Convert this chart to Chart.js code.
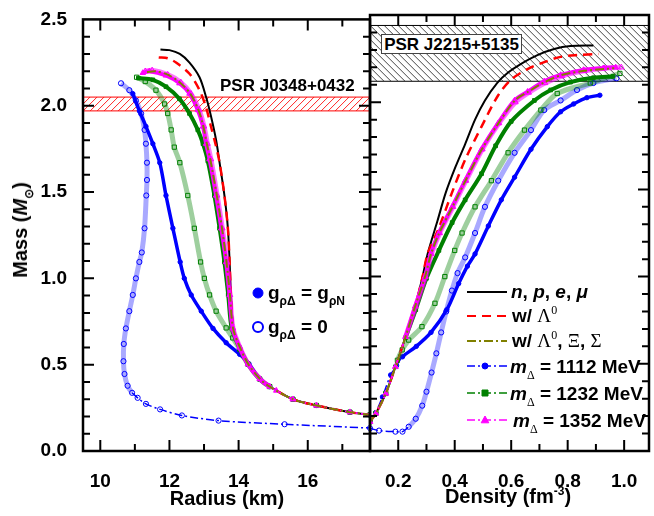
<!DOCTYPE html>
<html><head><meta charset="utf-8">
<script src="https://cdn.jsdelivr.net/npm/chart.js@4/dist/chart.umd.min.js"></script>
<style>
html,body{margin:0;padding:0;background:#fff;}
#wrap{position:relative;width:654px;height:516px;overflow:hidden;background:#fff;font-family:"Liberation Sans",Arial,sans-serif;color:#000;}
canvas{position:absolute;top:0;}
.t{position:absolute;white-space:nowrap;font-size:19px;font-weight:bold;line-height:19px;}
.ttl{font-size:20px;}
.sub{font-size:12px;position:relative;top:6px;}
.subs{font-size:12px;position:relative;top:6px;font-family:"Liberation Serif",serif;font-weight:normal;}
.subb{font-size:12px;position:relative;top:6px;}
.sup{font-size:12px;position:relative;top:-8px;}
.sym{font-family:"Liberation Serif",serif;font-weight:normal;font-size:19px;}
.supn{font-family:"Liberation Serif",serif;font-weight:normal;font-size:12px;position:relative;top:-8px;}
</style></head><body>
<div id="wrap">
<canvas id="cL" width="380" height="516" style="left:0px"></canvas>
<canvas id="cR" width="294" height="516" style="left:360px"></canvas>

<div class="t ttl" style="left:22px;top:230px;transform:translate(-50%,-50%) rotate(-90deg);">Mass (<i>M</i><span class="sub">&#8857;</span>)</div>
<div class="t ttl" style="left:227px;top:498px;transform:translate(-50%,-50%);">Radius (km)</div>
<div class="t ttl" style="left:508px;top:498px;transform:translate(-50%,-50%);">Density (fm<span class="sup">-3</span>)</div>

<div class="t" style="left:220px;top:76px;font-size:17px;">PSR J0348+0432</div>
<div class="t" style="left:381px;top:34px;width:139px;height:18px;font-size:17px;line-height:19px;background:#fff;border:1px solid #444;text-align:center;">PSR J2215+5135</div>

<div class="t" style="left:268px;top:283px;">g<span class="subb">&#961;&#916;</span> = g<span class="subb">&#961;N</span></div>
<div class="t" style="left:268px;top:317px;">g<span class="subb">&#961;&#916;</span> = 0</div>

<div class="t" style="left:511px;top:282px;"><i>n</i>, <i>p</i>, <i>e</i>, <i>&#956;</i></div>
<div class="t" style="left:512px;top:306px;">w/ <span class="sym">&#923;</span><span class="supn">0</span></div>
<div class="t" style="left:512px;top:331px;">w/ <span class="sym">&#923;</span><span class="supn">0</span>, <span class="sym">&#926;</span>, <span class="sym">&#931;</span></div>
<div class="t" style="left:510px;top:357px;"><i>m</i><span class="subs">&#916;</span> = 1112 MeV</div>
<div class="t" style="left:510px;top:384px;"><i>m</i><span class="subs">&#916;</span> = 1232 MeV</div>
<div class="t" style="left:513px;top:411px;"><i>m</i><span class="subs">&#916;</span> = 1352 MeV</div>
</div>

<script>
// ---------------- DATA ----------------
const xTicksRadius  = [10, 12, 14, 16];
const xMinorRadius  = [11, 13, 15, 17];
const xTicksDensity = [0.2, 0.4, 0.6, 0.8, 1.0];
const xMinorDensity = [0.3, 0.5, 0.7, 0.9];
const yTicksMass    = [0.0, 0.5, 1.0, 1.5, 2.0, 2.5];
const yMinorMass    = [0.1,0.2,0.3,0.4,0.6,0.7,0.8,0.9,1.1,1.2,1.3,1.4,1.6,1.7,1.8,1.9,2.1,2.2,2.3,2.4];
const radiusRange   = [9.5, 17.8];
const densityRange  = [0.1, 1.088];
const massRange     = [0, 2.5];
const psrJ0348      = [1.97, 2.05];
const psrJ2215      = [2.12, 2.44];

// ---- Mass-Radius (left panel) ----
const R_npemu  = [11.74,12.0,12.3,12.58,12.87,13.06,13.2,13.35,13.45,13.59,13.69,13.74,13.78,13.85,14.03,14.27,14.61,14.9,15.57,16.25,17.22,17.8];
const MR_npemu = [2.325,2.322,2.30,2.25,2.165,2.05,1.94,1.80,1.67,1.48,1.29,1.095,0.90,0.71,0.60,0.503,0.417,0.373,0.30,0.264,0.225,0.21];
const R_lam    = [11.69,11.95,12.19,12.58,12.87,13.06,13.2,13.33,13.45,13.59,13.69,13.74,13.78,13.85,14.03,14.27,14.61,14.9,15.57,16.25,17.22,17.8];
const MR_lam   = [2.28,2.275,2.25,2.185,2.09,1.99,1.88,1.78,1.67,1.48,1.29,1.095,0.90,0.71,0.60,0.503,0.417,0.373,0.30,0.264,0.225,0.21];
const R_lamXS  = [11.35,11.6,11.95,12.3,12.6,12.84,12.98,13.08,13.18,13.37,13.52,13.65,13.75,13.84,14.04,14.28,14.62,14.9,15.57,16.25,17.22,17.8];
const MR_lamXS = [2.195,2.2,2.18,2.135,2.07,1.975,1.88,1.78,1.69,1.48,1.29,1.095,0.904,0.71,0.60,0.503,0.417,0.373,0.30,0.264,0.225,0.21];
const R_1352g  = [11.23,11.42,11.9,12.29,12.58,12.82,12.97,13.06,13.16,13.35,13.5,13.64,13.74,13.83,14.03,14.27,14.61,14.9,15.09,15.57,16.25,17.22,17.8];
const MR_1352g = [2.19,2.20,2.175,2.13,2.07,1.975,1.88,1.78,1.69,1.48,1.29,1.095,0.904,0.71,0.60,0.503,0.417,0.373,0.35,0.30,0.264,0.225,0.21];
const R_1352z  = [11.3,11.5,11.95,12.33,12.62,12.86,13.0,13.1,13.2,13.38,13.53,13.66,13.75,13.84,14.04,14.28,14.62,14.9,15.57,16.25,17.22,17.8];
const MR_1352z = [2.20,2.205,2.18,2.135,2.07,1.975,1.88,1.78,1.69,1.48,1.29,1.095,0.904,0.71,0.60,0.503,0.417,0.373,0.30,0.264,0.225,0.21];
const R_1232g  = [11.1,11.52,11.9,12.29,12.58,12.82,12.97,13.11,13.3,13.45,13.59,13.7,13.8,14.02,14.27,14.61,14.9,15.57,16.25,17.22,17.8];
const MR_1232g = [2.16,2.15,2.11,2.04,1.955,1.86,1.78,1.68,1.48,1.29,1.095,0.904,0.71,0.60,0.503,0.417,0.373,0.30,0.264,0.225,0.21];
const R_1232z  = [11.05,11.3,11.61,11.86,11.95,12.05,12.14,12.3,12.53,12.72,12.9,13.01,13.16,13.35,13.64,13.83,14.03,14.27,14.61,14.9,15.57,16.25,17.22,17.8];
const MR_1232z = [2.165,2.14,2.09,2.01,1.955,1.86,1.76,1.67,1.48,1.29,1.095,1.0,0.904,0.81,0.713,0.655,0.59,0.503,0.417,0.373,0.30,0.264,0.225,0.21];
const R_1112g  = [10.94,11.13,11.32,11.52,11.72,11.9,12.1,12.31,12.43,12.63,12.92,13.26,13.64,14.03,14.3,14.61,14.9,15.57,16.25,17.22,17.8];
const MR_1112g = [2.07,1.97,1.88,1.78,1.67,1.48,1.29,1.095,1.0,0.904,0.81,0.71,0.627,0.56,0.505,0.417,0.373,0.30,0.264,0.225,0.21];
const R_1112z  = [10.6,10.84,11.03,11.18,11.28,11.32,11.35,11.35,11.33,11.28,11.2,11.13,11.03,10.94,10.84,10.74,10.68,10.67,10.70,10.79,10.92,11.08,11.32,11.73,12.36,13.42,15.33,17.8];
const MR_1112z = [2.13,2.09,2.03,1.955,1.86,1.78,1.67,1.57,1.48,1.29,1.15,1.095,1.0,0.904,0.81,0.71,0.62,0.52,0.446,0.378,0.337,0.308,0.273,0.241,0.206,0.176,0.155,0.133];

// ---- Mass-central density (right panel) ----
const rho_npemu  = [0.1,0.121,0.156,0.19,0.226,0.26,0.285,0.304,0.339,0.368,0.403,0.437,0.472,0.507,0.55,0.589,0.635,0.693,0.752,0.81,0.891];
const Mrho_npemu = [0.168,0.216,0.33,0.483,0.655,0.83,0.99,1.13,1.32,1.48,1.63,1.76,1.90,2.01,2.11,2.17,2.22,2.27,2.305,2.322,2.325];
const rho_lam    = [0.1,0.121,0.156,0.19,0.226,0.26,0.285,0.304,0.344,0.39,0.437,0.495,0.554,0.6,0.658,0.717,0.775,0.833,0.909];
const Mrho_lam   = [0.168,0.216,0.33,0.483,0.655,0.83,0.99,1.13,1.28,1.48,1.67,1.86,2.04,2.13,2.19,2.23,2.26,2.27,2.276];
const rho_lamXS  = [0.1,0.121,0.156,0.19,0.226,0.26,0.295,0.316,0.345,0.392,0.438,0.496,0.555,0.613,0.66,0.718,0.777,0.858,0.928,0.965];
const Mrho_lamXS = [0.168,0.216,0.33,0.483,0.655,0.83,1.0,1.13,1.25,1.40,1.55,1.73,1.88,2.01,2.06,2.115,2.155,2.18,2.19,2.195];
const rho_1352g  = [0.1,0.121,0.156,0.19,0.226,0.26,0.295,0.315,0.344,0.391,0.437,0.495,0.554,0.612,0.658,0.717,0.775,0.856,0.926,0.97];
const Mrho_1352g = [0.168,0.216,0.33,0.483,0.655,0.83,1.0,1.13,1.25,1.40,1.55,1.73,1.88,2.01,2.06,2.12,2.156,2.185,2.195,2.2];
const rho_1352z  = [0.1,0.121,0.156,0.19,0.226,0.262,0.297,0.318,0.347,0.394,0.44,0.498,0.557,0.615,0.662,0.72,0.78,0.86,0.93,0.99];
const Mrho_1352z = [0.168,0.216,0.33,0.483,0.655,0.83,1.0,1.13,1.25,1.40,1.55,1.73,1.88,2.0,2.055,2.11,2.15,2.18,2.195,2.2];
const rho_1232g  = [0.1,0.121,0.156,0.19,0.226,0.262,0.3,0.344,0.391,0.437,0.495,0.545,0.6,0.682,0.74,0.81,0.891,0.96];
const Mrho_1232g = [0.168,0.216,0.33,0.483,0.65,0.81,0.99,1.15,1.31,1.44,1.59,1.75,1.89,2.01,2.07,2.115,2.14,2.148];
const rho_1232z  = [0.1,0.121,0.156,0.197,0.214,0.237,0.284,0.33,0.365,0.4,0.426,0.472,0.53,0.589,0.647,0.705,0.763,0.88,0.985];
const Mrho_1232z = [0.168,0.216,0.33,0.52,0.58,0.636,0.713,0.847,1.0,1.15,1.25,1.40,1.55,1.71,1.84,1.955,2.05,2.11,2.165];
const rho_1112g  = [0.1,0.12,0.144,0.173,0.194,0.215,0.264,0.316,0.372,0.414,0.445,0.472,0.519,0.565,0.612,0.67,0.728,0.775,0.821,0.868,0.914];
const Mrho_1112g = [0.17,0.22,0.31,0.436,0.49,0.54,0.60,0.68,0.81,0.96,1.06,1.13,1.29,1.44,1.57,1.73,1.86,1.945,1.99,2.026,2.04];
const rho_1112z  = [0.1,0.132,0.19,0.215,0.237,0.262,0.285,0.3,0.318,0.335,0.352,0.37,0.39,0.41,0.437,0.472,0.507,0.554,0.612,0.67,0.717,0.775,0.833,0.891,0.973];
const Mrho_1112z = [0.13,0.117,0.111,0.111,0.139,0.185,0.26,0.34,0.45,0.56,0.68,0.80,0.92,1.02,1.11,1.25,1.40,1.55,1.71,1.84,1.955,2.01,2.07,2.11,2.137];

// ---------------- STYLES ----------------
const BLUE='#0000ff', GREEN='#008000', MAG='#ff00ff', RED='#ff0000', OLIVE='#808000';
const DD = [8,3,2,3];
const styles = {
  npemu:{borderColor:'#000',borderWidth:2,pointRadius:0,order:5},
  lam:{borderColor:RED,borderWidth:2.5,borderDash:[9,6],pointRadius:0,order:4},
  lamXS:{borderColor:OLIVE,borderWidth:2,borderDash:[9,3,2,3],pointRadius:0,order:1},
  d1352g:{borderColor:MAG,borderWidth:1.5,borderDash:DD,band:MAG,bandW:4,pointStyle:'triangle',pointRadius:3.2,pointBackgroundColor:MAG,pointBorderColor:MAG,pointBorderWidth:1,order:3},
  d1352z:{borderColor:MAG,borderWidth:1.5,borderDash:DD,band:'rgba(255,0,255,0.55)',bandW:5,pointStyle:'triangle',pointRadius:3.2,pointBackgroundColor:'rgba(0,0,0,0)',pointBorderColor:MAG,pointBorderWidth:1,order:2},
  d1232g:{borderColor:GREEN,borderWidth:1.5,borderDash:DD,band:GREEN,bandW:4,pointStyle:'rect',pointRadius:2.6,pointBackgroundColor:GREEN,pointBorderColor:GREEN,pointBorderWidth:1,order:6},
  d1232z:{borderColor:GREEN,borderWidth:1,borderDash:DD,band:'rgba(0,128,0,0.38)',bandW:5,pointStyle:'rect',pointRadius:3,pointBackgroundColor:'rgba(0,0,0,0)',pointBorderColor:GREEN,pointBorderWidth:1,order:7},
  d1112g:{borderColor:BLUE,borderWidth:1.5,borderDash:DD,band:BLUE,bandW:3.5,pointStyle:'circle',pointRadius:2.2,pointBackgroundColor:BLUE,pointBorderColor:BLUE,pointBorderWidth:1,order:8},
  d1112z:{borderColor:BLUE,borderWidth:1.5,borderDash:DD,band:'rgba(40,40,255,0.4)',bandW:5,pointStyle:'circle',pointRadius:2.6,pointBackgroundColor:'rgba(0,0,0,0)',pointBorderColor:BLUE,pointBorderWidth:1,order:9}
};

function pts(xs, ys){ return xs.map((x,i)=>({x:x, y:ys[i]})); }
// sparse: segments below this mass are drawn as the thin dash-dot line (few markers), above as dense marker band
function ds(key, xs, ys, sparse){
  const st = styles[key];
  const o = Object.assign({data:pts(xs,ys), tension:0.3, clip:0, fill:false}, st);
  if(st.band){
    const lim = sparse || 0;
    const thin = c => (c.p0.parsed.y < lim || c.p1.parsed.y < lim);
    o.segment = {
      borderColor: c => thin(c) ? st.borderColor : st.band,
      borderWidth: c => thin(c) ? st.borderWidth : st.bandW,
      borderDash:  c => thin(c) ? st.borderDash : []
    };
  }
  return o;
}

const leftSets = [
  ds('npemu',R_npemu,MR_npemu), ds('lam',R_lam,MR_lam), ds('lamXS',R_lamXS,MR_lamXS),
  ds('d1352g',R_1352g,MR_1352g,0.36), ds('d1352z',R_1352z,MR_1352z,0.36),
  ds('d1232g',R_1232g,MR_1232g,0.36), ds('d1232z',R_1232z,MR_1232z,0.36),
  ds('d1112g',R_1112g,MR_1112g,0.36), ds('d1112z',R_1112z,MR_1112z,0.32)
];
const rightSets = [
  ds('npemu',rho_npemu,Mrho_npemu), ds('lam',rho_lam,Mrho_lam), ds('lamXS',rho_lamXS,Mrho_lamXS),
  ds('d1352g',rho_1352g,Mrho_1352g,0.5), ds('d1352z',rho_1352z,Mrho_1352z,0.5),
  ds('d1232g',rho_1232g,Mrho_1232g,0.5), ds('d1232z',rho_1232z,Mrho_1232z,0.5),
  ds('d1112g',rho_1112g,Mrho_1112g,0.5), ds('d1112z',rho_1112z,Mrho_1112z,0.12)
];

// ---------------- DRAW HELPERS ----------------
function hatch(ctx, x0, y0, x1, y1, color, dir, gap){
  ctx.save();
  ctx.beginPath(); ctx.rect(x0, y0, x1-x0, y1-y0); ctx.clip();
  ctx.strokeStyle = color; ctx.lineWidth = 1;
  const h = y1 - y0;
  ctx.beginPath();
  for(let x = x0 - h - gap; x < x1 + h; x += gap){
    if(dir > 0){ ctx.moveTo(x, y1); ctx.lineTo(x + h, y0); }
    else { ctx.moveTo(x, y0); ctx.lineTo(x + h, y1); }
  }
  ctx.stroke();
  ctx.restore();
}

function makeFrame(cfg){
  return {
    id:'frame',
    beforeDatasetsDraw(chart){
      const ctx = chart.ctx, a = chart.chartArea, y = chart.scales.y;
      const yt = y.getPixelForValue(cfg.band[1]), yb = y.getPixelForValue(cfg.band[0]);
      hatch(ctx, a.left, yt, a.right, yb, cfg.bandHatch, cfg.bandDir, 7);
      ctx.save(); ctx.strokeStyle = cfg.bandEdge; ctx.lineWidth = 1;
      ctx.beginPath(); ctx.moveTo(a.left, yt); ctx.lineTo(a.right, yt);
      ctx.moveTo(a.left, yb); ctx.lineTo(a.right, yb); ctx.stroke(); ctx.restore();
    },
    afterDraw(chart){
      const ctx = chart.ctx, a = chart.chartArea, x = chart.scales.x, y = chart.scales.y;
      ctx.save();
      ctx.strokeStyle = '#000';
      ctx.lineWidth = 2;
      ctx.beginPath();
      const tk = (vals, len) => {
        vals.forEach(v => {
          const px = x.getPixelForValue(v);
          if(px <= a.left+1 || px >= a.right-1) return;
          ctx.moveTo(px, a.bottom); ctx.lineTo(px, a.bottom - len);
          ctx.moveTo(px, a.top); ctx.lineTo(px, a.top + len);
        });
      };
      const tky = (vals, len) => {
        vals.forEach(v => {
          const py = y.getPixelForValue(v);
          if(py <= a.top+1 || py >= a.bottom-1) return;
          ctx.moveTo(a.left, py); ctx.lineTo(a.left + len, py);
          ctx.moveTo(a.right, py); ctx.lineTo(a.right - len, py);
        });
      };
      tk(cfg.xMajor, 11); tk(cfg.xMinor, 7);
      tky(yTicksMass, 11); tky(yMinorMass, 7);
      ctx.stroke();
      ctx.lineWidth = 2.5;
      ctx.strokeRect(a.left, a.top, a.right - a.left, a.bottom - a.top);
      ctx.restore();
      if(cfg.legend) cfg.legend(ctx);
    }
  };
}

function sample(ctx, x0, x1, yy, color, width, dash){
  ctx.save();
  ctx.strokeStyle = color; ctx.lineWidth = width;
  ctx.setLineDash(dash || []);
  ctx.beginPath(); ctx.moveTo(x0, yy); ctx.lineTo(x1, yy); ctx.stroke();
  ctx.restore();
}
function marker(ctx, style, cx, cy, r, fill, stroke, lw){
  ctx.save();
  ctx.fillStyle = fill; ctx.strokeStyle = stroke; ctx.lineWidth = lw;
  ctx.beginPath();
  if(style === 'circle'){ ctx.arc(cx, cy, r, 0, Math.PI*2); }
  else if(style === 'rect'){ ctx.rect(cx - r, cy - r, 2*r, 2*r); }
  else { ctx.moveTo(cx, cy - r); ctx.lineTo(cx + r*0.95, cy + r*0.7); ctx.lineTo(cx - r*0.95, cy + r*0.7); ctx.closePath(); }
  ctx.fill(); ctx.stroke();
  ctx.restore();
}

const font = {family:'"Liberation Sans", Arial, sans-serif', size:19, weight:'bold'};

function makeChart(id, sets, xr, xMajor, xMinor, fmt, pad, cfg){
  return new Chart(document.getElementById(id), {
    type:'line',
    data:{datasets:sets},
    options:{
      responsive:false, animation:false, events:[],
      layout:{padding:pad},
      plugins:{legend:{display:false}, tooltip:{enabled:false}},
      scales:{
        x:{type:'linear', min:xr[0], max:xr[1],
           grid:{display:false}, border:{display:false},
           ticks:{font:font, color:'#000', padding:11, maxRotation:0, callback:fmt},
           afterBuildTicks:s=>{ s.ticks = xMajor.map(v=>({value:v})); },
           afterFit:s=>{ s.height = 65; }},
        y:{type:'linear', min:massRange[0], max:massRange[1], display:cfg.showY,
           grid:{display:false}, border:{display:false},
           ticks:{font:font, color:'#000', padding:8, callback:v=>Number(v).toFixed(1)},
           afterBuildTicks:s=>{ s.ticks = yTicksMass.map(v=>({value:v})); },
           afterFit:s=>{ s.width = cfg.showY ? 83 : 0; }}
      }
    },
    plugins:[makeFrame(Object.assign({xMajor:xMajor, xMinor:xMinor}, cfg))]
  });
}

makeChart('cL', leftSets, radiusRange, xTicksRadius, xMinorRadius, v=>String(v),
  {top:15, right:10, left:0, bottom:0},
  {showY:true, band:psrJ0348, bandHatch:'rgba(255,0,0,0.85)', bandEdge:RED, bandDir:1,
   legend:(ctx)=>{
     marker(ctx,'circle',258,293,5,BLUE,BLUE,1);
     marker(ctx,'circle',258,327,5,'#fff',BLUE,2);
   }});

makeChart('cR', rightSets, densityRange, xTicksDensity, xMinorDensity, v=>Number(v).toFixed(1),
  {top:15, right:1, left:10, bottom:0},
  {showY:false, band:psrJ2215, bandHatch:'#444', bandEdge:'#000', bandDir:-1,
   legend:(ctx)=>{
     const x0 = 467-360, x1 = 507-360, mx = 485-360;
     const rows = [292, 316, 341, 366, 393, 420];
     sample(ctx, x0, x1, rows[0], '#000', 2, []);
     sample(ctx, x0, x1, rows[1], RED, 2, [9,6]);
     sample(ctx, x0, x1, rows[2], OLIVE, 2, [9,3,2,3]);
     sample(ctx, x0, x1, rows[3], BLUE, 1.5, DD);
     marker(ctx,'circle',mx,rows[3],3,BLUE,BLUE,1);
     sample(ctx, x0, x1, rows[4], GREEN, 1.5, DD);
     marker(ctx,'rect',mx,rows[4],3,GREEN,GREEN,1);
     sample(ctx, x0, x1, rows[5], MAG, 1.5, DD);
     marker(ctx,'triangle',mx,rows[5],4,MAG,MAG,1);
   }});
</script>
</body></html>
